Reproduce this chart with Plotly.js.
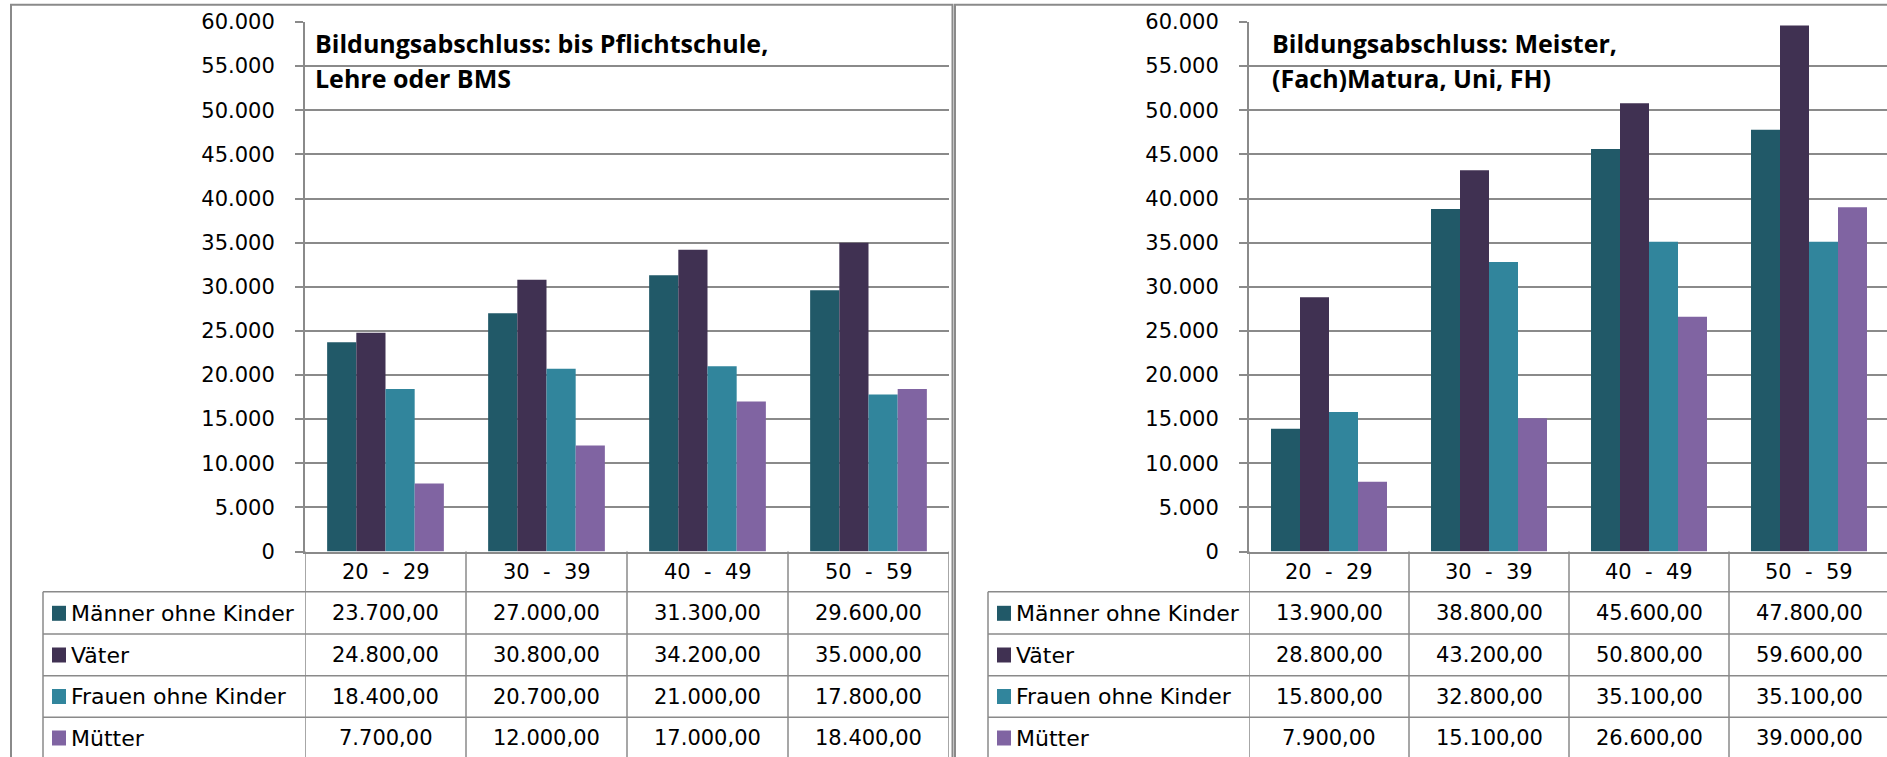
<!DOCTYPE html>
<html>
<head>
<meta charset="utf-8">
<script src="https://cdn.plot.ly/plotly-3.0.1.min.js"></script>
<style>
  html, body { margin: 0; padding: 0; background: #ffffff; }
  #chart { width: 1887px; height: 757px; }
</style>
</head>
<body>
<div id="chart"></div>
<script>
// ---------------- data ----------------
const categories = ['20 - 29', '30 - 39', '40 - 49', '50 - 59'];
const seriesNames = ['Männer ohne Kinder', 'Väter', 'Frauen ohne Kinder', 'Mütter'];
const seriesColors = ['#215968', '#403152', '#31859C', '#8064A2'];

const leftTitle = ['Bildungsabschluss: bis Pflichtschule,', 'Lehre oder BMS'];
const leftMaenner = [23700, 27000, 31300, 29600];
const leftVaeter  = [24800, 30800, 34200, 35000];
const leftFrauen  = [18400, 20700, 21000, 17800];
const leftMuetter = [7700, 12000, 17000, 18400];

const rightTitle = ['Bildungsabschluss: Meister,', '(Fach)Matura, Uni, FH)'];
const rightMaenner = [13900, 38800, 45600, 47800];
const rightVaeter  = [28800, 43200, 50800, 59600];
const rightFrauen  = [15800, 32800, 35100, 35100];
const rightMuetter = [7900, 15100, 26600, 39000];

const yMax = 60000;
const yStep = 5000;

// ---------------- layout helpers ----------------
const W = 1887, H = 757;
const px = x => x / W;
const py = y => 1 - y / H;
const GRID = '#8a8a8a';
const REG = 'DejaVu Sans, sans-serif';
const BOLD = 'Open Sans, sans-serif';

const panels = [
  { xa: 'x', ya: 'y', title: leftTitle,
    series: [leftMaenner, leftVaeter, leftFrauen, leftMuetter],
    plotL: 305, plotR: 949, catW: 161, boxL: 11, boxR: 952.5,
    legL: 43, keyL: 52, textL: 69, titleX: 313, tableR: 949 },
  { xa: 'x2', ya: 'y2', title: rightTitle,
    series: [rightMaenner, rightVaeter, rightFrauen, rightMuetter],
    plotL: 1249, plotR: 1887, catW: 160, boxL: 955, boxR: 1960,
    legL: 988, keyL: 997, textL: 1014, titleX: 1270, tableR: 1960 }
];

const plotTop = 22, plotBottom = 551.5;
const rowLines = [591.7, 634, 675.7, 717.3, 759];
const headerCenter = 571.6;
const rowCenters = [613.3, 655, 696.5, 738];

function fmtDE(v) {
  const s = Math.round(v).toString().replace(/\B(?=(\d{3})+(?!\d))/g, '.');
  return s + ',00';
}

const traces = [];
const shapes = [];
const annotations = [];
const layout = {
  width: W, height: H,
  margin: { l: 0, r: 0, t: 0, b: 0, pad: 0 },
  paper_bgcolor: '#ffffff',
  plot_bgcolor: 'rgba(0,0,0,0)',
  separators: ',.',
  barmode: 'group',
  bargap: 0.275,
  bargroupgap: 0,
  showlegend: false,
  font: { family: REG, size: 21, color: '#000000' }
};

panels.forEach((p, pi) => {
  const xKey = pi === 0 ? 'xaxis' : 'xaxis2';
  const yKey = pi === 0 ? 'yaxis' : 'yaxis2';
  const nCatVisible = (p.plotR - p.plotL) / p.catW;

  layout[xKey] = {
    domain: [px(p.plotL), px(p.plotR)],
    anchor: p.ya,
    type: 'category',
    range: [-0.5, -0.5 + nCatVisible],
    showticklabels: false,
    ticks: '',
    showgrid: false,
    zeroline: false,
    showline: true,
    linecolor: GRID,
    linewidth: 2,
    fixedrange: true
  };
  layout[yKey] = {
    domain: [py(plotBottom), py(plotTop)],
    anchor: p.xa,
    range: [0, yMax],
    tick0: 0,
    dtick: yStep,
    tickformat: ',d',
    showgrid: true,
    gridcolor: GRID,
    gridwidth: 2,
    zeroline: false,
    showline: true,
    linecolor: GRID,
    linewidth: 2,
    ticks: 'outside',
    ticklen: 8,
    tickwidth: 2,
    tickcolor: GRID,
    ticklabelstandoff: 16,
    tickfont: { family: REG, size: 21, color: '#000000' },
    fixedrange: true
  };

  // bars
  p.series.forEach((vals, si) => {
    traces.push({
      type: 'bar',
      name: seriesNames[si],
      x: categories,
      y: vals,
      xaxis: p.xa,
      yaxis: p.ya,
      marker: { color: seriesColors[si], line: { width: 0 } },
      hoverinfo: 'skip'
    });
  });

  // panel border
  shapes.push({ type: 'rect', xref: 'paper', yref: 'paper',
    x0: px(p.boxL), x1: px(p.boxR), y0: py(4.7), y1: py(820),
    line: { color: GRID, width: 2 }, fillcolor: 'rgba(0,0,0,0)' });

  // table: vertical lines at category boundaries
  for (let k = 0; k <= categories.length; k++) {
    shapes.push({ type: 'line', xref: p.xa, yref: 'paper',
      x0: k - 0.5, x1: k - 0.5, y0: py(plotBottom), y1: py(820),
      line: { color: GRID, width: 1.5 } });
  }
  // table: legend column left line
  shapes.push({ type: 'line', xref: 'paper', yref: 'paper',
    x0: px(p.legL), x1: px(p.legL), y0: py(rowLines[0]), y1: py(820),
    line: { color: GRID, width: 1.5 } });
  // table: horizontal lines
  rowLines.forEach(yl => {
    shapes.push({ type: 'line', xref: 'paper', yref: 'paper',
      x0: px(p.legL), x1: px(p.tableR), y0: py(yl), y1: py(yl),
      line: { color: GRID, width: 1.5 } });
  });

  // header labels (categories)
  categories.forEach((c, ci) => {
    annotations.push({ xref: p.xa, yref: 'paper', x: ci, y: py(headerCenter),
      text: c.replace(/ /g, '\u00a0\u00a0'), showarrow: false,
      xanchor: 'center', yanchor: 'middle',
      font: { family: REG, size: 21, color: '#000000' } });
  });

  // legend rows + values
  seriesNames.forEach((nm, si) => {
    const yc = rowCenters[si];
    shapes.push({ type: 'rect', xref: 'paper', yref: 'paper',
      x0: px(p.keyL), x1: px(p.keyL + 14), y0: py(yc - 7.5), y1: py(yc + 7.5),
      line: { width: 0 }, fillcolor: seriesColors[si] });
    annotations.push({ xref: 'paper', yref: 'paper', x: px(p.textL), y: py(yc),
      text: nm, showarrow: false, xanchor: 'left', yanchor: 'middle',
      font: { family: REG, size: 22, color: '#000000' } });
    p.series[si].forEach((v, ci) => {
      annotations.push({ xref: p.xa, yref: 'paper', x: ci, y: py(yc),
        text: fmtDE(v), showarrow: false, xanchor: 'center', yanchor: 'middle',
        font: { family: REG, size: 21, color: '#000000' } });
    });
  });

  // title (two lines)
  p.title.forEach((t, li) => {
    annotations.push({ xref: 'paper', yref: 'paper', x: px(p.titleX), y: py(43 + li * 35),
      text: '<b>' + t + '</b>', showarrow: false, xanchor: 'left', yanchor: 'middle',
      font: { family: BOLD, size: 25, color: '#000000' } });
  });
});

layout.shapes = shapes;
layout.annotations = annotations;

Plotly.newPlot('chart', traces, layout, { displayModeBar: false, staticPlot: true });
</script>
</body>
</html>
